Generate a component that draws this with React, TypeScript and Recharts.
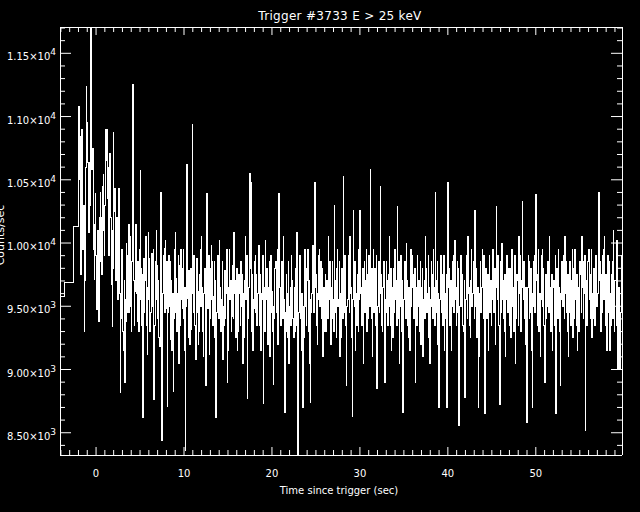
import { LineChart, Line, XAxis, YAxis } from 'recharts';

document.body.style.margin = '0';
document.body.style.background = '#000';
document.body.style.overflow = 'hidden';

const title = 'Trigger #3733 E > 25 keV';
const xLabel = 'Time since trigger (sec)';
const yLabel = 'Counts/sec';

const xDomain = [-4.1, 59.8];
const yDomain = [8324, 11708];
const xLabelTicks = [0, 10, 20, 30, 40, 50];
const yLabelTicks = [8500, 9000, 9500, 10000, 10500, 11000, 11500];
const xMinorTicks = Array.from({ length: 64 }, (_, i) => i - 4);
const yMinorTicks = Array.from({ length: 34 }, (_, i) => 8400 + i * 100);

// coarse 1.024 s bins before the fine data starts
const preTimes = [-4.1, -3.6, -2.55];
const preCounts = [9580, 9685, 10128];

// fine bins from -2.0 s, 64 ms wide (20 bins per row)
const binStart = -2.0;
const binWidth = 0.064;
const endTime = 59.8;
const counts = [
  11080, 10500, 10840, 10250, 9750, 10350, 10900, 10100, 9950, 10300, 9300, 9700, 10200, 10600, 11240, 10950, 10640, 10200, 10080, 10450,
  10640, 10300, 11800, 11400, 10580, 10750, 10270, 9950, 9710, 10150, 10395, 9900, 9475, 10050, 10100, 9600, 9380, 10200, 9850, 10400,
  10200, 9750, 10050, 10450, 10540, 10100, 9900, 10300, 10895, 10650, 10895, 10350, 10600, 10150, 9900, 10450, 10710, 10200, 9670, 10100,
  9340, 9800, 10870, 10250, 10430, 9850, 9700, 10150, 10200, 9650, 9550, 10050, 10430, 9600, 8820, 9400, 9500, 9950, 9800, 9300,
  9150, 9700, 8900, 9550, 9380, 10000, 9900, 9450, 9600, 10150, 9450, 9850, 10050, 9500, 9300, 9850, 11250, 9900, 9700, 9350,
  9620, 9950, 10150, 9600, 9380, 9850, 9820, 9300, 9950, 9550, 10570, 9800, 9350, 9750, 8620, 9400, 9880, 9450, 9700, 10050,
  9750, 9350, 9120, 9650, 10080, 9550, 9880, 9300, 9450, 9900, 9920, 9500, 9610, 9950, 8760, 9350, 9580, 9850, 10100, 9550,
  9820, 9400, 9700, 9250, 9180, 9750, 10400, 9600, 8440, 9300, 9600, 9900, 9960, 9450, 10020, 9550, 9480, 9850, 8710, 9450,
  9900, 9500, 9550, 9850, 9240, 9700, 9150, 9600, 8830, 9400, 9560, 9950, 10080, 9450, 9720, 9300, 9600, 9900, 9050, 9500,
  9820, 9350, 9950, 9550, 9480, 9800, 9950, 9400, 9150, 9650, 8360, 9500, 10620, 9700, 9560, 9250, 9780, 9450, 9200, 9800,
  9320, 9700, 10940, 9600, 9450, 9900, 9850, 9350, 9080, 9550, 9880, 9450, 9620, 9200, 9300, 9750, 9950, 9500, 10050, 9650,
  9650, 9300, 9100, 9600, 9800, 9450, 8870, 9550, 10390, 9750, 9480, 9900, 9120, 9500, 9400, 9800, 9980, 9550, 9850, 9350,
  9580, 9850, 9250, 9700, 8620, 9450, 9450, 9900, 9900, 9400, 10020, 9600, 9650, 9300, 9550, 9850, 9080, 9500, 9350, 9750,
  9780, 9400, 9600, 9950, 8900, 9500, 9150, 9650, 9950, 9550, 9700, 9300, 9420, 9800, 9820, 9400, 10080, 9600, 9700, 9250,
  9450, 9800, 9150, 9550, 9300, 9750, 9600, 9350, 9850, 9500, 9750, 9400, 9050, 9600, 9250, 9700, 10050, 9550, 9600, 9900,
  8770, 9400, 9650, 9900, 10550, 9800, 10480, 9650, 9300, 9750, 9150, 9550, 9480, 9850, 9900, 9450, 9750, 9350, 9600, 9950,
  9980, 9500, 9350, 9750, 9150, 9600, 9550, 9900, 8730, 9400, 9650, 9300, 10020, 9550, 9800, 9350, 9200, 9650, 9500, 9850,
  9100, 9550, 9900, 9450, 9620, 9300, 8880, 9500, 9400, 9800, 9850, 9450, 9550, 9950, 9200, 9600, 10390, 9700, 9650, 9350,
  9550, 9850, 9800, 9400, 10050, 9550, 8660, 9450, 9300, 9750, 9600, 9250, 9450, 9850, 9050, 9500, 9650, 9350, 9900, 9550,
  9700, 9400, 9250, 9650, 9300, 9800, 9600, 9350, 10080, 9600, 8300, 9450, 9550, 9900, 9850, 9400, 9150, 9600, 8700, 9500,
  9250, 9650, 9950, 9500, 9800, 9350, 9700, 9950, 9300, 9700, 9050, 9550, 8740, 9450, 9600, 9850, 9980, 9500, 9450, 9750,
  10480, 9650, 9750, 9350, 9200, 9600, 9550, 9900, 9950, 9500, 9850, 9400, 9400, 9800, 9100, 9550, 9650, 9300, 9750, 9450,
  9300, 9700, 9650, 9400, 10050, 9550, 9850, 9350, 9200, 9650, 9400, 9850, 9550, 9300, 10300, 9650, 9700, 9450, 9250, 9800,
  9950, 9500, 9550, 9850, 9100, 9600, 9250, 9700, 9800, 9400, 10525, 9750, 9450, 9900, 9700, 9350, 8870, 9500, 9550, 9800,
  9900, 9450, 10050, 9600, 9650, 9250, 8630, 9550, 10255, 9700, 9500, 9850, 9150, 9600, 9350, 9750, 9700, 9300, 9950, 9550,
  10260, 9600, 9650, 9350, 9400, 9800, 9050, 9550, 9850, 9450, 9700, 9950, 9300, 9650, 9750, 9400, 9900, 9500, 10580, 9700,
  9400, 9800, 9100, 9550, 9950, 9450, 9800, 9350, 9600, 9900, 8850, 9500, 9500, 9850, 9450, 9700, 10445, 9600, 9750, 9350,
  9300, 9650, 9850, 9500, 8900, 9550, 9450, 9850, 9700, 9350, 9750, 9500, 10050, 9600, 9350, 9800, 9150, 9650, 9250, 9700,
  9800, 9450, 9950, 9550, 9700, 9350, 10290, 9650, 9400, 9850, 9050, 9550, 9500, 9900, 9300, 9700, 8660, 9450, 9550, 9850,
  9850, 9400, 10000, 9550, 9700, 9350, 9250, 9650, 9150, 9600, 9950, 9500, 9650, 9900, 9750, 9400, 9400, 9800, 8900, 9550,
  9650, 9350, 9900, 9500, 9700, 9300, 9550, 9850, 9200, 9650, 9450, 9800, 9100, 9550, 9700, 9400, 10050, 9600, 9800, 9450,
  9600, 9900, 9250, 9650, 9050, 9550, 9500, 9850, 9750, 9400, 9950, 9550, 9650, 9350, 10400, 9700, 9450, 9850, 9200, 9600,
  8700, 9450, 9550, 9850, 9900, 9450, 9750, 9350, 9650, 9900, 9150, 9600, 9400, 9750, 8700, 9500, 10480, 9650, 9800, 9400,
  9350, 9700, 9150, 9600, 9500, 9850, 9900, 9450, 10020, 9550, 9650, 9350, 9450, 9850, 9800, 9400, 8560, 9500, 9600, 9900,
  9900, 9500, 9750, 9350, 9300, 9700, 8780, 9500, 9550, 9900, 9850, 9400, 10050, 9600, 9650, 9350, 9250, 9700, 9950, 9500,
  9600, 9850, 9700, 9400, 10255, 9650, 9500, 9800, 9250, 9650, 8700, 9450, 9100, 9600, 9850, 9450, 9650, 9950, 9750, 9400,
  9900, 9500, 8650, 9550, 9800, 9400, 9400, 9750, 9150, 9600, 9900, 9450, 9700, 9350, 9550, 9850, 9950, 9500, 9450, 9800,
  9200, 9650, 10290, 9700, 9550, 9900, 9600, 9350, 8720, 9500, 9850, 9450, 10000, 9550, 9700, 9400, 9300, 9750, 9100, 9600,
  9550, 9900, 9850, 9450, 9800, 9350, 9450, 9800, 9250, 9650, 9950, 9500, 9650, 9300, 9600, 9900, 9050, 9550, 9400, 9750,
  9700, 9350, 10050, 9600, 9900, 9450, 9300, 9700, 10330, 9650, 9550, 9850, 9750, 9400, 9200, 9650, 8580, 9450, 9650, 9900,
  9850, 9400, 9450, 9800, 9150, 9600, 8700, 9500, 9550, 9850, 9900, 9450, 10380, 9700, 9750, 9350, 9650, 9950, 9300, 9600,
  9100, 9550, 9600, 9900, 9950, 9500, 9800, 9350, 8900, 9600, 9750, 9400, 9500, 9850, 9850, 9450, 10050, 9600, 9650, 9300,
  9400, 9750, 9150, 9650, 9700, 9350, 9550, 9900, 8650, 9450, 9800, 9400, 9950, 9550, 9650, 9300, 8870, 9600, 9550, 9850,
  9500, 9900, 9750, 9400, 10050, 9600, 9850, 9450, 9300, 9750, 9100, 9550, 9450, 9850, 9650, 9350, 9700, 9950, 9250, 9650,
  9800, 9400, 9950, 9550, 9350, 9750, 9150, 9600, 9650, 9300, 9400, 9850, 9750, 9450, 10050, 9650, 9850, 9400, 9600, 9900,
  8520, 9500, 9700, 9350, 9450, 9850, 9950, 9550, 9750, 9400, 9650, 9950, 9250, 9600, 9400, 9800, 9700, 9350, 9900, 9550,
  9900, 9500, 9600, 9850, 10400, 9700, 9850, 9450, 9300, 9750, 9450, 9900, 9950, 9550, 10050, 9650, 9350, 9750, 9150, 9600,
  9900, 9450, 9500, 9850, 9150, 9600, 9350, 9750, 9850, 9400, 10100, 9650, 9300, 9700, 9700, 9350, 10020, 9500, 9000, 9400,
  9650, 9300, 9000, 9450, 9600, 9900,
];

const data = [
  ...preTimes.map((t, i) => ({ t, c: preCounts[i] })),
  ...counts.map((c, i) => ({ t: binStart + i * binWidth, c })),
  { t: endTime, c: counts[counts.length - 1] },
];

const FONT = 'DejaVu Sans, sans-serif';
const W = 640;
const H = 512;

const sci = (v: number) => {
  const e = Math.floor(Math.log10(v) + 1e-9);
  return [(v / Math.pow(10, e)).toFixed(2), String(e)];
};

const BottomTick = (props: any) => {
  const { x, y, payload } = props;
  const major = xLabelTicks.includes(payload.value);
  return (
    <g>
      <line x1={x} y1={y} x2={x} y2={y - (major ? 8 : 5)} stroke="#fff" />
      {major && (
        <text x={x} y={y + 22} textAnchor="middle" fill="#fff" fontSize={10} fontFamily={FONT}>
          {payload.value}
        </text>
      )}
    </g>
  );
};

const TopTick = (props: any) => {
  const { x, y, payload } = props;
  const major = xLabelTicks.includes(payload.value);
  return <line x1={x} y1={y} x2={x} y2={y + (major ? 8 : 5)} stroke="#fff" />;
};

const LeftTick = (props: any) => {
  const { x, y, payload } = props;
  const major = yLabelTicks.includes(payload.value);
  const [m, e] = sci(payload.value);
  return (
    <g>
      <line x1={x} y1={y} x2={x + (major ? 11 : 5)} y2={y} stroke="#fff" />
      {major && (
        <text x={x - 4} y={y + 7} textAnchor="end" fill="#fff" fontSize={10} fontFamily={FONT}>
          <tspan>{`${m}×10`}</tspan>
          <tspan dy={-5} fontSize={9}>{e}</tspan>
        </text>
      )}
    </g>
  );
};

const RightTick = (props: any) => {
  const { x, y, payload } = props;
  const major = yLabelTicks.includes(payload.value);
  return <line x1={x} y1={y} x2={x - (major ? 11 : 5)} y2={y} stroke="#fff" />;
};

export default function App() {
  return (
    <div style={{ position: 'relative', width: W, height: H, background: '#000' }}>
      <style>{'.recharts-line-curve, .recharts-cartesian-axis line { shape-rendering: crispEdges; }'}</style>
      <LineChart width={W} height={H} data={data} margin={{ top: 26, right: 0, bottom: 0, left: 0 }}>
        <XAxis
          xAxisId="bottom"
          dataKey="t"
          type="number"
          domain={xDomain}
          allowDataOverflow
          ticks={xMinorTicks}
          interval={0}
          height={57}
          tickSize={0}
          tickMargin={0}
          tickLine={false}
          axisLine={{ stroke: '#fff' }}
          tick={BottomTick}
        />
        <XAxis
          xAxisId="top"
          orientation="top"
          dataKey="t"
          type="number"
          domain={xDomain}
          allowDataOverflow
          ticks={xMinorTicks}
          interval={0}
          height={1}
          tickSize={0}
          tickMargin={0}
          tickLine={false}
          axisLine={{ stroke: '#fff' }}
          tick={TopTick}
        />
        <YAxis
          yAxisId="left"
          type="number"
          domain={yDomain}
          allowDataOverflow
          ticks={yMinorTicks}
          interval={0}
          width={60}
          tickSize={0}
          tickMargin={0}
          tickLine={false}
          axisLine={{ stroke: '#fff' }}
          tick={LeftTick}
        />
        <YAxis
          yAxisId="right"
          orientation="right"
          type="number"
          domain={yDomain}
          allowDataOverflow
          ticks={yMinorTicks}
          interval={0}
          width={18}
          tickSize={0}
          tickMargin={0}
          tickLine={false}
          axisLine={{ stroke: '#fff' }}
          tick={RightTick}
        />
        <Line
          xAxisId="bottom"
          yAxisId="left"
          dataKey="c"
          type="stepAfter"
          stroke="#fff"
          strokeWidth={1}
          dot={false}
          activeDot={false}
          isAnimationActive={false}
        />
      </LineChart>
      <svg
        width={W}
        height={H}
        style={{ position: 'absolute', left: 0, top: 0, pointerEvents: 'none' }}
      >
        <text x={340} y={20} textAnchor="middle" fill="#fff" fontSize={12} letterSpacing={0.3} fontFamily={FONT}>
          {title}
        </text>
        <text x={339} y={494} textAnchor="middle" fill="#fff" fontSize={10} fontFamily={FONT}>
          {xLabel}
        </text>
        <text
          x={4}
          y={235}
          textAnchor="middle"
          fill="#fff"
          fontSize={11}
          fontFamily={FONT}
          transform="rotate(-90, 4, 235)"
        >
          {yLabel}
        </text>
      </svg>
    </div>
  );
}
